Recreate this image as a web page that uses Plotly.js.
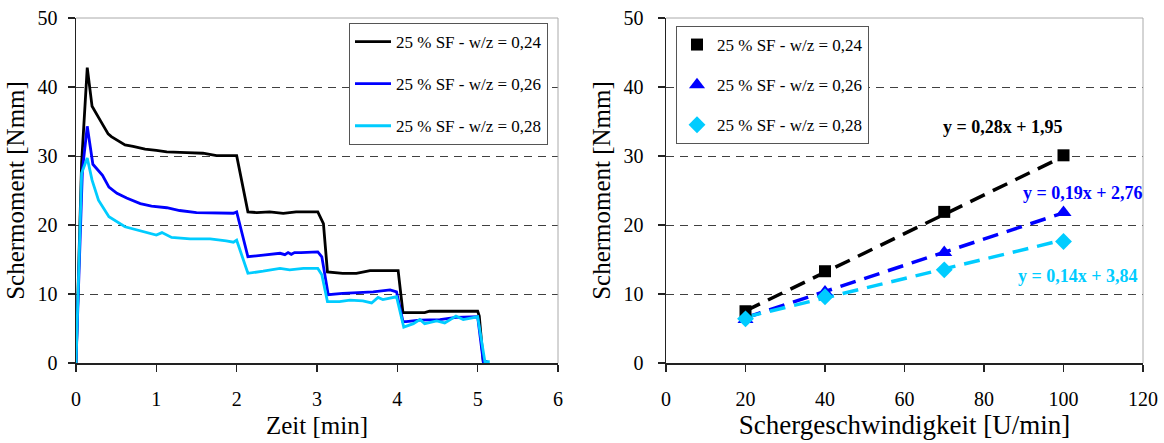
<!DOCTYPE html>
<html>
<head>
<meta charset="utf-8">
<script src="https://cdn.plot.ly/plotly-3.0.1.min.js"></script>
<style>html,body{margin:0;padding:0;background:#fff;}#chart{width:1164px;height:443px;}</style>
</head>
<body>
<div id="chart"></div>
<script>
// ---- Left chart: Schermoment over Zeit ----
const seriesNames = ['25 % SF - w/z = 0,24', '25 % SF - w/z = 0,26', '25 % SF - w/z = 0,28'];

const t024 = [0, 0.07, 0.14, 0.2, 0.3, 0.4, 0.44, 0.53, 0.61, 0.71, 0.86, 1.0, 1.13, 1.38, 1.58, 1.75, 2.0, 2.14, 2.25, 2.41, 2.58, 2.74, 3.01, 3.08, 3.13, 3.32, 3.49, 3.66, 4.01, 4.07, 4.34, 4.40, 5.0, 5.02, 5.07, 5.12];
const m024 = [0, 29, 42.8, 37.2, 35.2, 33.2, 32.8, 32.1, 31.6, 31.4, 31.0, 30.8, 30.6, 30.5, 30.4, 30.05, 30.05, 21.9, 21.8, 21.9, 21.7, 21.9, 21.9, 20.2, 13.2, 13.0, 13.0, 13.4, 13.4, 7.3, 7.3, 7.5, 7.5, 6.8, 0.2, 0.2];

const t026 = [0, 0.08, 0.14, 0.21, 0.33, 0.41, 0.51, 0.63, 0.80, 0.94, 1.13, 1.29, 1.50, 1.87, 1.96, 2.0, 2.14, 2.33, 2.54, 2.6, 2.64, 2.68, 2.72, 2.8, 3.01, 3.06, 3.14, 3.32, 3.53, 3.70, 3.91, 3.99, 4.07, 4.11, 4.28, 4.53, 4.73, 5.0, 5.07, 5.12];
const m026 = [0, 28, 34.3, 28.8, 27.2, 25.5, 24.6, 23.9, 23.1, 22.75, 22.5, 22.1, 21.8, 21.8, 21.7, 21.9, 15.4, 15.65, 15.9, 15.7, 16.0, 15.75, 16.0, 16.0, 16.1, 15.4, 9.9, 10.1, 10.2, 10.3, 10.6, 10.3, 6.0, 6.0, 6.2, 6.3, 6.6, 6.7, 0.2, 0.2];

const t028 = [0, 0.07, 0.14, 0.2, 0.28, 0.33, 0.41, 0.61, 0.80, 1.0, 1.07, 1.19, 1.42, 1.67, 1.87, 1.96, 2.0, 2.14, 2.33, 2.54, 2.66, 2.83, 3.01, 3.06, 3.13, 3.28, 3.41, 3.57, 3.68, 3.76, 3.82, 3.99, 4.08, 4.2, 4.28, 4.34, 4.49, 4.59, 4.73, 4.82, 5.0, 5.09, 5.15];
const m028 = [0, 27.5, 29.7, 26.5, 23.6, 22.7, 21.2, 19.75, 19.2, 18.55, 18.9, 18.2, 18.0, 18.0, 17.7, 17.5, 17.8, 13.0, 13.3, 13.7, 13.5, 13.7, 13.7, 12.8, 8.9, 8.9, 9.1, 9.0, 8.7, 9.5, 9.2, 9.6, 5.2, 5.7, 6.3, 5.7, 6.1, 5.8, 6.8, 6.3, 6.7, 0.2, 0.2];

// ---- Right chart: Schermoment over Schergeschwindigkeit ----
const speeds = [20, 40, 70, 100];
const s024 = [7.5, 13.3, 21.9, 30.1];
const s026 = [6.3, 10.3, 16.0, 21.8];
const s028 = [6.4, 9.6, 13.5, 17.6];
const slopes = [0.28, 0.19, 0.14];
const intercepts = [1.95, 2.76, 3.84];
const eqLabels = ['y = 0,28x + 1,95', 'y = 0,19x + 2,76', 'y = 0,14x + 3,84'];

const colors = ['#000000', '#0000FF', '#00CCFF'];
const FONT = '"Liberation Serif", "Times New Roman", serif';

const W = 1164, H = 443;
const px = v => v / W;
const py = v => 1 - v / H;

const leftT = [t024, t026, t028];
const leftM = [m024, m026, m028];
const rightM = [s024, s026, s028];
const symbols = ['square', 'triangle-up', 'diamond'];
const msizes = [12, 14, 13];

const traces = [];
for (let i = 0; i < 3; i++) {
  traces.push({
    x: leftT[i], y: leftM[i], xaxis: 'x', yaxis: 'y', mode: 'lines',
    line: {color: colors[i], width: 2.8},
    name: seriesNames[i], legend: 'legend', legendgroup: 'L' + i
  });
}
// trendlines from equation coefficients
for (let i = 0; i < 3; i++) {
  const xs = [speeds[0], speeds[speeds.length - 1]];
  traces.push({
    x: xs, y: xs.map(v => slopes[i] * v + intercepts[i]), xaxis: 'x2', yaxis: 'y2',
    mode: 'lines', line: {color: colors[i], width: 3.5, dash: '16px,9px'},
    showlegend: false, hoverinfo: 'skip'
  });
}
for (let i = 0; i < 3; i++) {
  traces.push({
    x: speeds, y: rightM[i], xaxis: 'x2', yaxis: 'y2', mode: 'markers',
    marker: {symbol: symbols[i], size: msizes[i], color: colors[i]},
    name: seriesNames[i], legend: 'legend2', legendgroup: 'R' + i
  });
}

const tickFont = {family: FONT, size: 20, color: '#000'};
const xTitleFontL = {family: FONT, size: 25, color: '#000'};
const xTitleFontR = {family: FONT, size: 27, color: '#000'};
const yTitleFont = {family: FONT, size: 25, color: '#000'};

const xDomL = [px(76), px(558)];
const xDomR = [px(666), px(1143)];
const yDom = [py(363), py(18)];

const baseX = {
  showline: true, linecolor: '#222', linewidth: 1.5, ticks: 'outside', ticklen: 7,
  tickcolor: '#222', tickwidth: 1.5, showgrid: false, zeroline: false,
  tickfont: tickFont, automargin: false, fixedrange: true
};
const baseY = Object.assign({}, baseX, {
  showgrid: true, gridcolor: '#404040', gridwidth: 1, griddash: '8px,6px',
  range: [0, 50], dtick: 10, tick0: 0
});

const layout = {
  width: W, height: H,
  margin: {l: 0, r: 0, t: 0, b: 0},
  paper_bgcolor: '#fff', plot_bgcolor: 'rgba(0,0,0,0)',
  font: {family: FONT, color: '#000'},
  showlegend: true,
  xaxis: Object.assign({}, baseX, {domain: xDomL, anchor: 'y', range: [0, 6], dtick: 1, tick0: 0,
    ticklabelstandoff: 10,
    title: {text: 'Zeit [min]', font: xTitleFontL, standoff: 8}}),
  yaxis: Object.assign({}, baseY, {domain: yDom, anchor: 'x', ticklabelstandoff: 6,
    title: {text: 'Schermoment [Nmm]', font: yTitleFont, standoff: 6}}),
  xaxis2: Object.assign({}, baseX, {domain: xDomR, anchor: 'y2', range: [0, 120], dtick: 20, tick0: 0,
    ticklabelstandoff: 10,
    title: {text: 'Schergeschwindigkeit [U/min]', font: xTitleFontR, standoff: 6}}),
  yaxis2: Object.assign({}, baseY, {domain: yDom, anchor: 'x2', ticklabelstandoff: 10,
    title: {text: 'Schermoment [Nmm]', font: yTitleFont, standoff: 6}}),
  // inner halves of the crossing tick marks
  xaxis3: {overlaying: 'x', anchor: 'y', range: [0, 6], dtick: 1, tick0: 0, ticks: 'inside', ticklen: 7,
    tickcolor: '#222', tickwidth: 1.5, showticklabels: false, showgrid: false, zeroline: false, showline: false, fixedrange: true},
  yaxis3: {overlaying: 'y', anchor: 'x', range: [0, 50], dtick: 10, tick0: 0, ticks: 'inside', ticklen: 7,
    tickcolor: '#222', tickwidth: 1.5, showticklabels: false, showgrid: false, zeroline: false, showline: false, fixedrange: true},
  xaxis4: {overlaying: 'x2', anchor: 'y2', range: [0, 120], dtick: 20, tick0: 0, ticks: 'inside', ticklen: 7,
    tickcolor: '#222', tickwidth: 1.5, showticklabels: false, showgrid: false, zeroline: false, showline: false, fixedrange: true},
  yaxis4: {overlaying: 'y2', anchor: 'x2', range: [0, 50], dtick: 10, tick0: 0, ticks: 'inside', ticklen: 7,
    tickcolor: '#222', tickwidth: 1.5, showticklabels: false, showgrid: false, zeroline: false, showline: false, fixedrange: true},
  legend: {
    x: px(349), y: py(23), xanchor: 'left', yanchor: 'top',
    bgcolor: '#fff', bordercolor: '#555', borderwidth: 1,
    font: {family: FONT, size: 17, color: '#000'}, tracegroupgap: 17, itemwidth: 36
  },
  legend2: {
    x: px(676), y: py(26), xanchor: 'left', yanchor: 'top',
    bgcolor: '#fff', bordercolor: '#555', borderwidth: 1,
    font: {family: FONT, size: 17, color: '#000'}, tracegroupgap: 15, itemwidth: 30
  },
  shapes: [
    // plot-area borders (top and right) in light gray
    {type: 'line', xref: 'paper', yref: 'paper', x0: xDomL[0], x1: xDomL[1], y0: yDom[1], y1: yDom[1], line: {color: '#aaa', width: 1}, layer: 'above'},
    {type: 'line', xref: 'paper', yref: 'paper', x0: xDomL[1], x1: xDomL[1], y0: yDom[0], y1: yDom[1], line: {color: '#aaa', width: 1}, layer: 'above'},
    {type: 'line', xref: 'paper', yref: 'paper', x0: xDomR[0], x1: xDomR[1], y0: yDom[1], y1: yDom[1], line: {color: '#aaa', width: 1}, layer: 'above'},
    {type: 'line', xref: 'paper', yref: 'paper', x0: xDomR[1], x1: xDomR[1], y0: yDom[0], y1: yDom[1], line: {color: '#aaa', width: 1}, layer: 'above'}
  ],
  annotations: [
    {text: '<b>' + eqLabels[0] + '</b>', xref: 'x2', yref: 'y2', x: 84.8, y: 34.2, showarrow: false,
      font: {family: FONT, size: 18, color: colors[0]}},
    {text: '<b>' + eqLabels[1] + '</b>', xref: 'x2', yref: 'y2', x: 104.9, y: 24.6, showarrow: false,
      font: {family: FONT, size: 18, color: colors[1]}},
    {text: '<b>' + eqLabels[2] + '</b>', xref: 'x2', yref: 'y2', x: 103.6, y: 12.6, showarrow: false,
      font: {family: FONT, size: 18, color: colors[2]}}
  ]
};

Plotly.newPlot('chart', traces, layout, {staticPlot: true, displayModeBar: false});
</script>
</body>
</html>
